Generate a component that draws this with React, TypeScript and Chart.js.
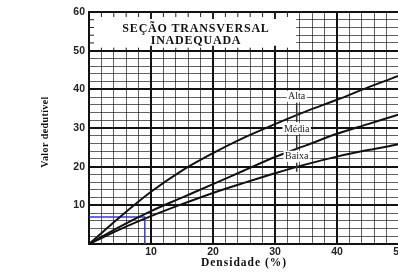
import React, { useEffect, useRef } from "react";
import { Chart, registerables } from "chart.js";
Chart.register(...registerables);

const densidade = [0, 5, 10, 15, 20, 25, 30, 35, 40, 45, 50];
const alta = [0, 7, 13.5, 19, 23.5, 27.5, 31, 34.3, 37.3, 40.5, 43.5];
const media = [0, 4.5, 8.5, 12, 15.5, 19, 22.5, 25.5, 28.5, 31, 33.5];
const baixa = [0, 3.8, 7.2, 10.3, 13.2, 15.8, 18.3, 20.6, 22.6, 24.3, 25.8];
const exemploX = [0, 9, 9];
const exemploY = [7, 7, 0];
const curveLabels = ["Alta", "Média", "Baixa"];
const labelX = [33.5, 33.5, 33.5];
const labelY = [38.2, 29.9, 22.7];
const xTickLabels = [10, 20, 30, 40, 50];
const yTickLabels = [10, 20, 30, 40, 50, 60];
const titleLines = ["SEÇÃO TRANSVERSAL", "INADEQUADA"];
const xTitle = "Densidade (%)";
const yTitle = "Valor dedutível";

const pts = (xs: number[], ys: number[]) => xs.map((x, i) => ({ x, y: ys[i] }));

const decor = {
  id: "decor",
  beforeDatasetsDraw(chart: any) {
    const { ctx, chartArea: a, scales } = chart;
    const xs = scales.x, ys = scales.y;
    const y50 = ys.getPixelForValue(50);
    const boxR = xs.getPixelForValue(33.4);
    ctx.save();
    ctx.fillStyle = "#fff";
    ctx.fillRect(a.left + 1, a.top + 1, boxR - a.left - 1, y50 - a.top - 2);
    ctx.strokeStyle = "#222";
    for (let v = 2; v <= 32; v += 2) {
      const px = xs.getPixelForValue(v);
      const major = v % 10 === 0;
      ctx.lineWidth = major ? 2 : 1;
      ctx.beginPath();
      ctx.moveTo(px, a.top);
      ctx.lineTo(px, a.top + (major ? 7 : 5));
      ctx.moveTo(px, y50);
      ctx.lineTo(px, y50 - (major ? 5 : 3));
      ctx.stroke();
    }
    ctx.lineWidth = 1;
    for (let v = 52; v <= 58; v += 2) {
      const py = ys.getPixelForValue(v);
      ctx.beginPath();
      ctx.moveTo(a.left, py);
      ctx.lineTo(a.left + 5, py);
      ctx.stroke();
    }
    ctx.fillStyle = "#111";
    ctx.font = 'bold 12px "Liberation Serif"';
    (ctx as any).letterSpacing = "0.8px";
    ctx.textAlign = "center";
    ctx.textBaseline = "middle";
    ctx.fillText(titleLines[0], 196, 29);
    ctx.fillText(titleLines[1], 196, 41);
    ctx.restore();
  },
  afterDatasetsDraw(chart: any) {
    const { ctx, scales } = chart;
    const xs = scales.x, ys = scales.y;
    ctx.save();
    ctx.font = '10px "Liberation Serif"';
    ctx.textAlign = "center";
    ctx.textBaseline = "middle";
    const boxes: any[] = [];
    curveLabels.forEach((t, i) => {
      const px = xs.getPixelForValue(labelX[i]);
      const py = ys.getPixelForValue(labelY[i]);
      const w = ctx.measureText(t).width + 3;
      boxes.push({ px, top: py - 5.5, bottom: py + 5.5 });
      ctx.fillStyle = "#fff";
      ctx.fillRect(px - w / 2, py - 5.5, w, 11);
      ctx.fillStyle = "#222";
      ctx.fillText(t, px, py + 0.5);
    });
    ctx.strokeStyle = "#333";
    ctx.lineWidth = 1.5;
    ctx.beginPath();
    for (let i = 0; i < boxes.length - 1; i++) {
      ctx.moveTo(boxes[i].px, boxes[i].bottom + 1);
      ctx.lineTo(boxes[i].px, boxes[i + 1].top - 1);
    }
    const last = boxes[boxes.length - 1];
    ctx.moveTo(last.px, last.bottom + 1);
    ctx.lineTo(last.px, last.bottom + 10);
    ctx.stroke();
    ctx.restore();
  },
  afterDraw(chart: any) {
    const { ctx, chartArea: a } = chart;
    ctx.save();
    ctx.fillStyle = "#111";
    ctx.textAlign = "center";
    ctx.textBaseline = "middle";
    ctx.font = 'bold 11.5px "Liberation Serif"';
    (ctx as any).letterSpacing = "1px";
    ctx.fillText(xTitle, (a.left + a.right) / 2, 263);
    (ctx as any).letterSpacing = "0.4px";
    ctx.font = 'bold 10px "Liberation Serif"';
    ctx.translate(45, (a.top + a.bottom) / 2 + 4);
    ctx.rotate(-Math.PI / 2);
    ctx.fillText(yTitle, 0, 0);
    ctx.restore();
  },
};

export default function App() {
  const ref = useRef<HTMLCanvasElement | null>(null);
  useEffect(() => {
    if (!ref.current) return;
    const gridColor = (c: any) =>
      c.tick && c.tick.value % 10 === 0 ? "#111" : "rgba(0,0,0,0.62)";
    const gridWidth = (c: any) => (c.tick && c.tick.value % 10 === 0 ? 2 : 1);
    const tickFont = { family: '"Liberation Sans", Arial, sans-serif', size: 10.5, weight: "bold" as const };
    const chart = new Chart(ref.current, {
      type: "line",
      data: {
        datasets: [
          { label: curveLabels[0], data: pts(densidade, alta), borderColor: "#111", borderWidth: 2, pointRadius: 0, cubicInterpolationMode: "monotone" },
          { label: curveLabels[1], data: pts(densidade, media), borderColor: "#111", borderWidth: 2, pointRadius: 0, cubicInterpolationMode: "monotone" },
          { label: curveLabels[2], data: pts(densidade, baixa), borderColor: "#111", borderWidth: 2, pointRadius: 0, cubicInterpolationMode: "monotone" },
          { label: "exemplo", data: pts(exemploX, exemploY), borderColor: "#3a3ad6", borderWidth: 1.5, pointRadius: 0, tension: 0 },
        ],
      },
      options: {
        responsive: false,
        animation: false,
        layout: { padding: { top: 12, right: 11, left: 0, bottom: 0 } },
        plugins: { legend: { display: false }, tooltip: { enabled: false } },
        scales: {
          x: {
            type: "linear",
            min: 0,
            max: 50,
            afterFit: (s: any) => { s.height = 28; },
            ticks: {
              stepSize: 2,
              autoSkip: false,
              maxRotation: 0,
              padding: 2,
              color: "#222",
              font: tickFont,
              callback: (v: any) => (xTickLabels.includes(Number(v)) ? String(v) : ""),
            },
            grid: { color: gridColor, lineWidth: gridWidth, drawTicks: false },
            border: { display: true, color: "#111", width: 2 },
          },
          y: {
            type: "linear",
            min: 0,
            max: 60,
            afterFit: (s: any) => { s.width = 89; },
            ticks: {
              stepSize: 2,
              autoSkip: false,
              padding: 4,
              color: "#222",
              font: tickFont,
              callback: (v: any) => (yTickLabels.includes(Number(v)) ? String(v) : ""),
            },
            grid: { color: gridColor, lineWidth: gridWidth, drawTicks: false },
            border: { display: true, color: "#111", width: 2 },
          },
        },
      },
      plugins: [decor],
    } as any);
    return () => chart.destroy();
  }, []);
  return (
    <div style={{ position: "fixed", left: 0, top: 0, width: 398, height: 272, overflow: "hidden", background: "#fff" }}>
      <canvas ref={ref} width={410} height={272} style={{ width: 410, height: 272, display: "block" }} />
    </div>
  );
}
